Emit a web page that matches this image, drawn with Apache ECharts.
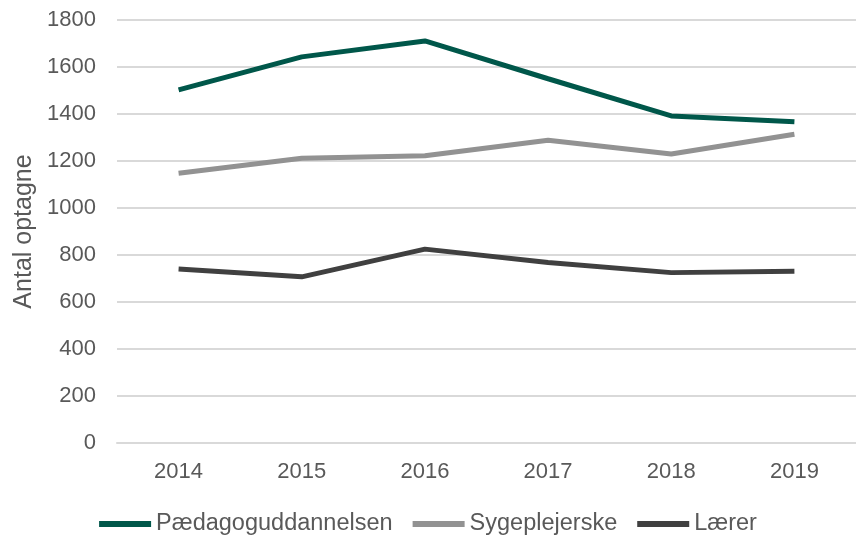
<!DOCTYPE html>
<html>
<head>
<meta charset="utf-8">
<script src="https://cdn.jsdelivr.net/npm/echarts@6/dist/echarts.min.js"></script>
<style>
  html, body { margin: 0; padding: 0; background: #fff; }
  #chart { width: 856px; height: 539px; }
</style>
</head>
<body>
<div id="chart"></div>
<script>
const years = ['2014', '2015', '2016', '2017', '2018', '2019']
const paedagog = [1503, 1643, 1711, 1550, 1392, 1367]
const sygepl = [1148, 1212, 1222, 1288, 1230, 1314]
const laerer = [740, 707, 825, 768, 725, 731]

const txt = '#595959'
const font = 'Liberation Sans, Arial, sans-serif'

const chart = echarts.init(document.getElementById('chart'))
chart.setOption({
  animation: false,
  textStyle: { fontFamily: font },
  grid: { left: 117, right: 0, top: 20, bottom: 96 },
  legend: {
    top: 512,
    left: 'center',
    padding: 0,
    icon: 'rect',
    itemWidth: 52,
    itemHeight: 6,
    itemGap: 20,
    textStyle: { color: txt, fontSize: 23.5, fontFamily: font },
    data: ['Pædagoguddannelsen', 'Sygeplejerske', 'Lærer']
  },
  xAxis: {
    type: 'category',
    data: years,
    boundaryGap: true,
    axisLine: { show: true, lineStyle: { color: '#d9d9d9', width: 2 } },
    axisTick: { show: false },
    axisLabel: { color: txt, fontSize: 22, margin: 18, fontFamily: font }
  },
  yAxis: {
    type: 'value',
    min: 0,
    max: 1800,
    interval: 200,
    name: 'Antal optagne',
    nameLocation: 'middle',
    nameGap: 79,
    nameTextStyle: { color: txt, fontSize: 25, fontFamily: font },
    axisLine: { show: false },
    axisTick: { show: false },
    axisLabel: {
      color: txt, fontSize: 22, margin: 21, fontFamily: font,
      formatter: v => String(v)
    },
    splitLine: { lineStyle: { color: '#d9d9d9', width: 2 } }
  },
  series: [
    {
      name: 'Pædagoguddannelsen', type: 'line', data: paedagog,
      symbol: 'none', color: '#00574a', lineStyle: { width: 5, color: '#00574a' }
    },
    {
      name: 'Sygeplejerske', type: 'line', data: sygepl,
      symbol: 'none', color: '#929292', lineStyle: { width: 5, color: '#929292' }
    },
    {
      name: 'Lærer', type: 'line', data: laerer,
      symbol: 'none', color: '#404040', lineStyle: { width: 5, color: '#404040' }
    }
  ]
})
</script>
</body>
</html>
